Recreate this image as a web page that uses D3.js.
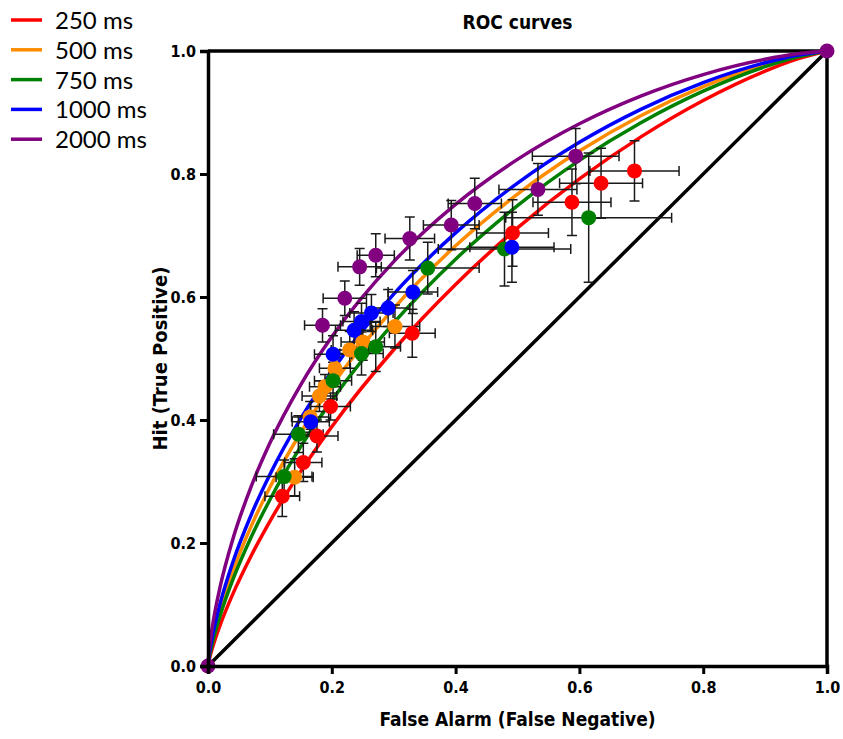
<!DOCTYPE html>
<html lang="en">
  <head>
    <meta charset="utf-8">
    <title>ROC curves</title>
    <script type="text/javascript" src="https://cdn.jsdelivr.net/npm/d3@7"></script>
    <style>
      body { margin: 0; background: #fff; }
      .bold { font-family: "DejaVu Sans Condensed", "DejaVu Sans", sans-serif; font-stretch: condensed; font-weight: bold; }
    </style>
  </head>
  <body>
    <script type="text/javascript">
      var width = 843;
      var height = 739;

      var seriesNames = ["250 ms", "500 ms", "750 ms", "1000 ms", "2000 ms"];
      var seriesColors = ["#ff0000", "#ff8c00", "#008000", "#0000ff", "#800080"];

      // fitted curves, hit rate at these false alarm rates
      var curveFA = [0, 0.001, 0.005, 0.01, 0.02, 0.04, 0.07, 0.1, 0.15, 0.2, 0.3, 0.4, 0.5, 0.6, 0.7, 0.8, 0.9, 0.95, 1];
      var curve250  = [0, 0.0057, 0.0219, 0.0387, 0.0676, 0.1168, 0.1798, 0.2353, 0.3169, 0.3891, 0.5142, 0.6205, 0.7123, 0.7920, 0.8608, 0.9195, 0.9672, 0.9863, 1];
      var curve500  = [0, 0.0091, 0.0324, 0.0552, 0.0928, 0.1536, 0.2278, 0.2906, 0.3797, 0.4556, 0.5815, 0.6832, 0.7673, 0.8373, 0.8952, 0.9420, 0.9779, 0.9912, 1];
      var curve750  = [0, 0.0078, 0.0283, 0.0489, 0.0832, 0.1399, 0.2101, 0.2704, 0.3570, 0.4319, 0.5579, 0.6615, 0.7486, 0.8221, 0.8838, 0.9347, 0.9745, 0.9897, 1];
      var curve1000 = [0, 0.0107, 0.0370, 0.0623, 0.1031, 0.1683, 0.2464, 0.3115, 0.4027, 0.4794, 0.6047, 0.7042, 0.7852, 0.8516, 0.9056, 0.9486, 0.9809, 0.9926, 1];
      var curve2000 = [0, 0.0154, 0.0499, 0.0814, 0.1305, 0.2058, 0.2925, 0.3626, 0.4576, 0.5352, 0.6575, 0.7507, 0.8238, 0.8817, 0.9271, 0.9617, 0.9865, 0.9950, 1];

      // points: [false alarm, hit, false alarm error, hit error]
      var points250 = [
        [0.120, 0.276, 0.028, 0.033], [0.154, 0.331, 0.030, 0.031], [0.176, 0.374, 0.034, 0.026],
        [0.198, 0.422, 0.032, 0.022], [0.330, 0.541, 0.037, 0.039], [0.492, 0.704, 0.058, 0.054],
        [0.588, 0.754, 0.063, 0.054], [0.635, 0.785, 0.067, 0.057], [0.689, 0.805, 0.072, 0.049]
      ];
      var points500 = [
        [0.140, 0.307, 0.030, 0.030], [0.165, 0.405, 0.030, 0.025], [0.180, 0.439, 0.028, 0.025],
        [0.189, 0.454, 0.025, 0.020], [0.205, 0.484, 0.025, 0.022], [0.229, 0.514, 0.030, 0.030],
        [0.250, 0.527, 0.035, 0.030], [0.302, 0.552, 0.040, 0.035]
      ];
      var points750 = [
        [0.123, 0.308, 0.045, 0.027], [0.146, 0.377, 0.040, 0.030], [0.202, 0.464, 0.030, 0.030],
        [0.248, 0.508, 0.035, 0.035], [0.271, 0.519, 0.040, 0.040], [0.355, 0.647, 0.083, 0.042],
        [0.479, 0.678, 0.107, 0.060], [0.615, 0.729, 0.134, 0.105]
      ];
      var points1000 = [
        [0.166, 0.397, 0.030, 0.012], [0.202, 0.507, 0.030, 0.030], [0.236, 0.546, 0.030, 0.030],
        [0.248, 0.560, 0.030, 0.030], [0.264, 0.574, 0.035, 0.030], [0.291, 0.582, 0.035, 0.030],
        [0.331, 0.608, 0.040, 0.035], [0.491, 0.681, 0.068, 0.057]
      ];
      var points2000 = [
        [0.185, 0.554, 0.029, 0.027], [0.221, 0.598, 0.035, 0.028], [0.245, 0.649, 0.035, 0.030],
        [0.271, 0.668, 0.030, 0.035], [0.326, 0.695, 0.040, 0.035], [0.393, 0.717, 0.045, 0.040],
        [0.431, 0.752, 0.043, 0.041], [0.533, 0.775, 0.063, 0.042], [0.594, 0.829, 0.070, 0.045]
      ];
      var endPoints = [[0, 0], [1, 1]];

      var tickValues = [0, 0.2, 0.4, 0.6, 0.8, 1.0];

      var curves = [curve250, curve500, curve750, curve1000, curve2000];
      var pointSets = [points250, points500, points750, points1000, points2000];
      // drawing order of the symbols (later on top)
      var drawOrder = [1, 2, 0, 3, 4];

      var xScale = d3.scaleLinear().domain([0, 1]).range([208, 827]);
      var yScale = d3.scaleLinear().domain([0, 1]).range([666, 51]);

      var svg = d3.select("body")
            .append("svg")
            .attr("width", width)
            .attr("height", height);

      // diagonal
      svg.append("line")
         .attr("x1", xScale(0)).attr("y1", yScale(0))
         .attr("x2", xScale(1)).attr("y2", yScale(1))
         .attr("stroke", "#000")
         .attr("stroke-width", 3.5);

      // frame top and right
      svg.append("line")
         .attr("x1", xScale(0)).attr("y1", yScale(1))
         .attr("x2", xScale(1)).attr("y2", yScale(1))
         .attr("stroke", "#000").attr("stroke-width", 3.5);
      svg.append("line")
         .attr("x1", xScale(1)).attr("y1", yScale(0))
         .attr("x2", xScale(1)).attr("y2", yScale(1))
         .attr("stroke", "#000").attr("stroke-width", 3.5);

      // fitted curves
      var line = d3.line()
          .x(function(d) { return xScale(d[0]); })
          .y(function(d) { return yScale(d[1]); })
          .curve(d3.curveMonotoneX);

      curves.forEach(function(c, i) {
        svg.append("path")
           .datum(curveFA.map(function(f, j) { return [f, c[j]]; }))
           .attr("d", line)
           .attr("fill", "none")
           .attr("stroke", seriesColors[i])
           .attr("stroke-width", 3.5);
      });

      // error bars
      var cap = 5;
      var errG = svg.append("g")
          .attr("stroke", "#1a1a1a")
          .attr("stroke-width", 1.5)
          .attr("fill", "none");

      drawOrder.forEach(function(i) {
        pointSets[i].forEach(function(p) {
          var cx = xScale(p[0]), cy = yScale(p[1]);
          var x0 = xScale(p[0] - p[2]), x1 = xScale(p[0] + p[2]);
          var y0 = yScale(p[1] - p[3]), y1 = yScale(p[1] + p[3]);
          errG.append("path")
              .attr("d", "M" + x0 + "," + cy + "H" + x1 +
                         "M" + x0 + "," + (cy - cap) + "V" + (cy + cap) +
                         "M" + x1 + "," + (cy - cap) + "V" + (cy + cap) +
                         "M" + cx + "," + y0 + "V" + y1 +
                         "M" + (cx - cap) + "," + y0 + "H" + (cx + cap) +
                         "M" + (cx - cap) + "," + y1 + "H" + (cx + cap));
        });
      });

      // symbols
      drawOrder.forEach(function(i) {
        svg.append("g")
           .selectAll("circle")
           .data(pointSets[i])
           .enter()
           .append("circle")
           .attr("cx", function(d) { return xScale(d[0]); })
           .attr("cy", function(d) { return yScale(d[1]); })
           .attr("r", 7.5)
           .attr("fill", seriesColors[i]);
      });

      svg.append("g")
         .selectAll("circle")
         .data(endPoints)
         .enter()
         .append("circle")
         .attr("cx", function(d) { return xScale(d[0]); })
         .attr("cy", function(d) { return yScale(d[1]); })
         .attr("r", 7.5)
         .attr("fill", seriesColors[4]);

      // axes
      var xAxis = d3.axisBottom(xScale).tickValues(tickValues).tickFormat(d3.format(".1f")).tickSize(8).tickPadding(4);
      var yAxis = d3.axisLeft(yScale).tickValues(tickValues).tickFormat(d3.format(".1f")).tickSize(8).tickPadding(4);

      var gx = svg.append("g")
         .attr("transform", "translate(0," + yScale(0) + ")")
         .call(xAxis);
      var gy = svg.append("g")
         .attr("transform", "translate(" + xScale(0) + ",0)")
         .call(yAxis);

      [gx, gy].forEach(function(g) {
        g.select(".domain").attr("stroke-width", 3.5);
        g.selectAll(".tick line").attr("stroke-width", 3);
        g.selectAll(".tick text")
         .attr("class", "bold")
         .attr("font-size", 16)
         .attr("fill", "#000");
      });
      gx.selectAll(".tick text").attr("dy", "0.95em");

      // titles
      svg.append("text")
         .attr("class", "bold")
         .attr("x", (xScale(0) + xScale(1)) / 2)
         .attr("y", 29)
         .attr("text-anchor", "middle")
         .attr("font-size", 19)
         .text("ROC curves");

      svg.append("text")
         .attr("class", "bold")
         .attr("x", (xScale(0) + xScale(1)) / 2)
         .attr("y", 726)
         .attr("text-anchor", "middle")
         .attr("font-size", 19)
         .text("False Alarm (False Negative)");

      svg.append("text")
         .attr("class", "bold")
         .attr("transform", "translate(167," + (yScale(0) + yScale(1)) / 2 + ") rotate(-90)")
         .attr("text-anchor", "middle")
         .attr("font-size", 20)
         .text("Hit (True Positive)");

      // legend
      var legend = svg.append("g")
          .selectAll("g")
          .data(seriesNames)
          .enter()
          .append("g")
          .attr("transform", function(d, i) { return "translate(0," + (20 + i * 29.8) + ")"; });

      legend.append("line")
            .attr("x1", 11).attr("x2", 42)
            .attr("stroke", function(d, i) { return seriesColors[i]; })
            .attr("stroke-width", 3.5);

      legend.append("text")
            .attr("x", 55)
            .attr("y", 9)
            .attr("font-family", "Lato, sans-serif")
            .attr("font-size", 24)
            .attr("fill", "#000")
            .text(function(d) { return d; });
    </script>
  </body>
</html>
